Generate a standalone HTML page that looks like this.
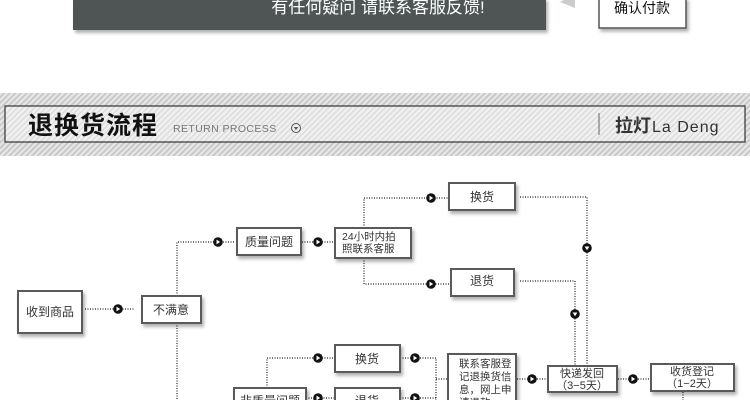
<!DOCTYPE html>
<html><head><meta charset="utf-8"><style>
html,body{margin:0;padding:0;background:#fff;width:750px;height:400px;overflow:hidden}
svg{display:block}
text{font-family:"Liberation Sans","Noto Sans CJK SC",sans-serif}
</style></head><body>
<svg width="750" height="400" viewBox="0 0 750 400" xmlns="http://www.w3.org/2000/svg">
<defs>
<pattern id="st" width="4" height="4" patternUnits="userSpaceOnUse" patternTransform="rotate(45)">
<rect width="4" height="4" fill="#e6e6e6"/><rect width="1.6" height="4" fill="#c4c4c4"/>
</pattern>
<pattern id="st2" width="4" height="4" patternUnits="userSpaceOnUse" patternTransform="rotate(45)">
<rect width="4" height="4" fill="#f0f0f0"/><rect width="1.2" height="4" fill="#d8d8d8"/>
</pattern>
<filter id="sh" x="-20%" y="-20%" width="150%" height="160%"><feDropShadow dx="2" dy="3" stdDeviation="1.5" flood-color="#000" flood-opacity="0.3"/></filter>
<g id="ar"><circle r="4.8" fill="#111"/><path d="M-1.5,-2.4 L2.2,0 L-1.5,2.4Z" fill="#fff"/></g>
<g id="ad"><circle r="4.8" fill="#111"/><path d="M-2.4,-1.5 L2.4,-1.5 L0,2.2Z" fill="#fff"/></g>
</defs>
<!-- top bar -->
<rect x="73" y="-2" width="473" height="32" fill="#4f5455" filter="url(#sh)"/>
<text x="378" y="13" font-size="17" fill="#fff" text-anchor="middle">有任何疑问 请联系客服反馈!</text>
<path d="M560,2 L575,-6 L575,8Z" fill="#ccc"/>
<rect x="599" y="-2" width="87" height="30" fill="#fff" stroke="#555" stroke-width="1.5" filter="url(#sh)"/>
<text x="642" y="13" font-size="14" fill="#111" text-anchor="middle">确认付款</text>
<!-- header band -->
<rect x="0" y="93" width="750" height="63" fill="url(#st)"/>
<rect x="5" y="106" width="740" height="36" fill="url(#st2)" stroke="#333" stroke-width="1.2"/>
<text x="28" y="134" font-size="25" font-weight="bold" fill="#111" letter-spacing="1">退换货流程</text>
<text x="173" y="132" font-size="10.5" fill="#777" letter-spacing="0.4">RETURN PROCESS</text>
<circle cx="296" cy="128" r="4.5" fill="none" stroke="#555" stroke-width="1"/><path d="M293.8,127 L298.2,127 L296,130Z" fill="#555"/>
<line x1="599" y1="113" x2="599" y2="135" stroke="#666" stroke-width="1"/>
<text x="615" y="132" font-size="18" font-weight="bold" fill="#333">拉灯</text>
<text x="652" y="132" font-size="16" fill="#333" letter-spacing="1">La Deng</text>
<!-- connectors -->
<g stroke="#222" stroke-width="1.2" stroke-dasharray="1,1.5" fill="none">
<path d="M85,309H134"/>
<path d="M177,296V242H234"/><path d="M177,323V400"/>
<path d="M302,242H334"/>
<path d="M364,228V198H448"/><path d="M364,258V284H450"/>
<path d="M520,197H587V365"/><path d="M520,281H575V365"/>
<path d="M267,388V358H334"/>
<path d="M400,358H436V400"/><path d="M306,398H334"/><path d="M400,398H436"/>
<path d="M436,379H447"/><path d="M517,379H546"/><path d="M618,379H650"/>
<path d="M683,392V400"/>
</g>
<use href="#ar" x="118" y="309"/>
<use href="#ar" x="218" y="242"/>
<use href="#ar" x="318" y="242"/>
<use href="#ar" x="431" y="198"/>
<use href="#ar" x="431" y="284"/>
<use href="#ad" x="587" y="248"/>
<use href="#ad" x="575" y="314"/>
<use href="#ar" x="318" y="358"/>
<use href="#ar" x="415" y="358"/>
<use href="#ar" x="318" y="398"/>
<use href="#ar" x="415" y="398"/>
<use href="#ar" x="532" y="379"/>
<use href="#ar" x="633" y="379"/>
<!-- boxes -->
<g fill="#fff" stroke="#5a5a5a" stroke-width="2" filter="url(#sh)">
<rect x="18" y="291" width="64" height="42"/>
<rect x="142" y="296" width="59" height="27"/>
<rect x="237" y="228" width="64" height="27"/>
<rect x="335" y="228" width="76" height="30"/>
<rect x="449" y="183" width="66" height="27"/>
<rect x="451" y="269" width="63" height="27"/>
<rect x="335" y="345" width="65" height="27"/>
<rect x="234" y="388" width="72" height="27"/>
<rect x="335" y="388" width="65" height="27"/>
<rect x="448" y="354" width="68" height="60"/>
<rect x="548" y="366" width="69" height="26"/>
<rect x="651" y="364" width="83" height="27"/>
</g>
<g font-size="12" fill="#333" text-anchor="middle">
<text x="50" y="316">收到商品</text>
<text x="171" y="314">不满意</text>
<text x="269" y="246">质量问题</text>
<text x="482" y="201">换货</text>
<text x="482" y="285">退货</text>
<text x="367" y="363">换货</text>
<text x="270" y="405">非质量问题</text>
<text x="367" y="405">退货</text>
</g>
<g font-size="10.5" fill="#333">
<text x="342" y="240">24小时内拍</text>
<text x="342" y="252">照联系客服</text>
<text x="459" y="367">联系客服登</text>
<text x="459" y="380">记退换货信</text>
<text x="459" y="393">息，网上申</text>
<text x="459" y="406">请退款</text>
</g>
<g font-size="11" fill="#333" text-anchor="middle">
<text x="582" y="377">快递发回</text>
<text x="582" y="389">（3−5天）</text>
<text x="692" y="375">收货登记</text>
<text x="692" y="387">（1−2天）</text>
</g>
</svg>
</body></html>
